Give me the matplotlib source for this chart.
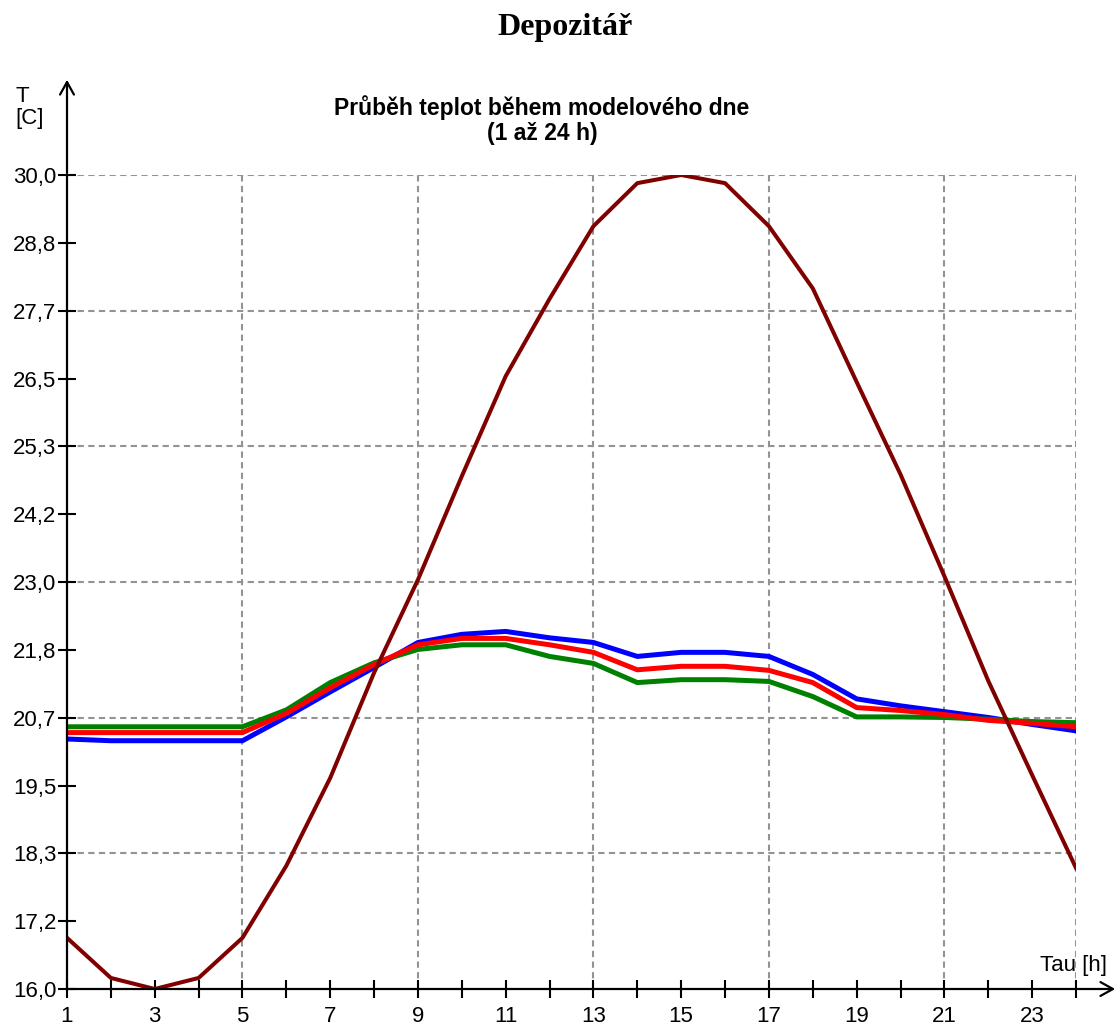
import numpy as np
import matplotlib.pyplot as plt

# hodiny modelového dne
hours = list(range(1, 25))

# venkovní teplota (tmavě červená)
t_out = [16.88, 16.19, 16.00, 16.19, 16.88, 18.12, 19.63, 21.44, 23.04, 24.82, 26.54, 27.87,
         29.12, 29.86, 30.00, 29.86, 29.12, 28.05, 26.44, 24.85, 23.10, 21.30, 19.68, 18.08]

# vnitřní teploty
t_blue = [20.30, 20.27, 20.27, 20.27, 20.27, 20.68, 21.11, 21.53, 21.96, 22.10, 22.15, 22.04,
          21.96, 21.72, 21.79, 21.79, 21.72, 21.41, 20.99, 20.87, 20.77, 20.67, 20.55, 20.44]
t_red = [20.41, 20.41, 20.41, 20.41, 20.41, 20.74, 21.18, 21.58, 21.92, 22.03, 22.03, 21.92,
         21.79, 21.49, 21.55, 21.55, 21.48, 21.27, 20.84, 20.79, 20.72, 20.62, 20.57, 20.51]
t_green = [20.51, 20.51, 20.51, 20.51, 20.51, 20.80, 21.27, 21.61, 21.84, 21.92, 21.92, 21.72,
           21.60, 21.27, 21.32, 21.32, 21.29, 21.03, 20.68, 20.68, 20.67, 20.64, 20.60, 20.58]

y_labels = ['16,0', '17,2', '18,3', '19,5', '20,7', '21,8', '23,0',
            '24,2', '25,3', '26,5', '27,7', '28,8', '30,0']
x_labels = [str(h) if h % 2 == 1 else '' for h in hours]
x_grid = [5, 9, 13, 17, 21, 24]

plt.rcParams['font.family'] = ['Liberation Sans', 'DejaVu Sans']

W, H = 1120, 1028
fig = plt.figure(figsize=(W / 100, H / 100), dpi=100)
x0, x1, yb, yt = 67, 1076, 989, 175
ax = fig.add_axes([x0 / W, 1 - yb / H, (x1 - x0) / W, (yb - yt) / H])
ax.set_xlim(1, 24)
ax.set_ylim(16, 30)

y_ticks = np.linspace(16, 30, len(y_labels))

# mřížka
grid_kw = dict(color='#939393', lw=1.5, linestyle=(0, (3, 2.1)), zorder=1)
for v in y_ticks[2::2]:
    ax.axhline(v, **grid_kw)
for h in x_grid:
    ax.axvline(h, **grid_kw)

ax.plot(hours, t_blue, color='#0000ff', lw=3.6, zorder=3)
ax.plot(hours, t_green, color='#008000', lw=3.6, zorder=3)
ax.plot(hours, t_red, color='#ff0000', lw=3.6, zorder=3)
ax.plot(hours, t_out, color='#800000', lw=2.9, zorder=4)

for s in ['top', 'right']:
    ax.spines[s].set_visible(False)
for s in ['left', 'bottom']:
    ax.spines[s].set_linewidth(1.6)
    ax.spines[s].set_color('black')
    ax.spines[s].set_zorder(5)

ax.set_xticks(hours)
ax.set_xticklabels(x_labels)
ax.set_yticks(y_ticks)
ax.set_yticklabels(y_labels)
ax.tick_params(axis='both', direction='inout', length=13, width=1.5, color='black',
               labelsize=16)
ax.tick_params(axis='x', pad=6)
ax.tick_params(axis='y', pad=1)

# šipky os
arrow = dict(arrowstyle='->,head_length=0.9,head_width=0.5', lw=1.6, color='black')
ax.annotate('', xy=(0, 1 + (yt - 77) / (yb - yt)), xytext=(0, 0.999),
            xycoords='axes fraction', textcoords='axes fraction', arrowprops=arrow,
            annotation_clip=False)
ax.annotate('', xy=(1 + (1118 - x1) / (x1 - x0), 0), xytext=(0.999, 0),
            xycoords='axes fraction', textcoords='axes fraction', arrowprops=arrow,
            annotation_clip=False)

fig.text(15 / W, 1 - 86 / H, 'T\n[C]', ha='left', va='top', fontsize=16, linespacing=1.05)
fig.text(1107 / W, 1 - 966 / H, 'Tau [h]', ha='right', va='center', fontsize=16)

fig.text(542 / W, 1 - 120 / H, 'Průběh teplot během modelového dne\n(1 až 24 h)',
         ha='center', va='center', fontsize=16.5, fontweight='bold', linespacing=1.15)
fig.text(565 / W, 1 - 27 / H, 'Depozitář', ha='center', va='center',
         fontsize=23, fontweight='bold', family=['Liberation Serif', 'DejaVu Serif'])

fig.savefig('out.png', dpi=100)
